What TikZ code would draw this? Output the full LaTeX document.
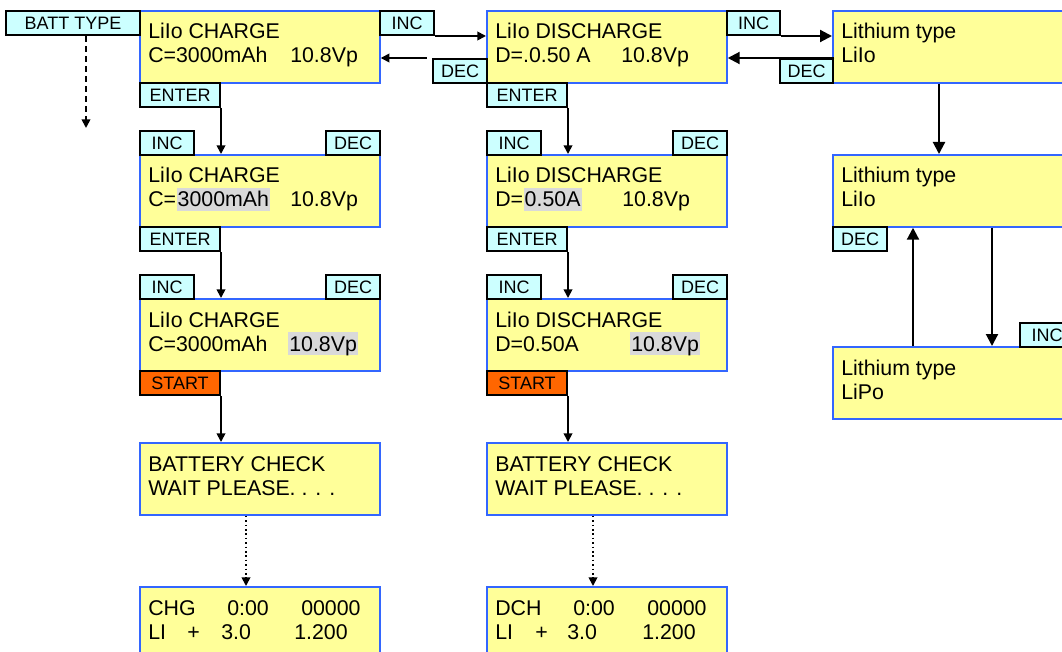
\documentclass[tikz,border=0pt]{standalone}
\usepackage{fontspec}
\setmainfont{Liberation Sans}
\usetikzlibrary{arrows.meta}
\definecolor{scryellow}{HTML}{FFFF99}
\definecolor{scrblue}{HTML}{3366FF}
\definecolor{btncyan}{HTML}{CCFFFF}
\definecolor{btnorange}{HTML}{FF6600}
\definecolor{hlgray}{HTML}{D9D9D9}

\begin{document}
\begin{tikzpicture}[x=0.75pt, y=-0.75pt,
    screen/.style={draw=scrblue, fill=scryellow, line width=1.3pt, anchor=north west,
        minimum width=180pt, minimum height=54pt, inner sep=0pt},
    btn/.style={draw=black, fill=btncyan, line width=1.5pt, anchor=north west,
        minimum height=18pt, inner sep=0pt, font=\fontsize{13.5}{16}\selectfont},
    txt/.style={anchor=base west, inner sep=0pt, font=\fontsize{16}{18}\selectfont},
    hl/.style={txt, fill=hlgray, text height=14.25pt, text depth=3pt, inner xsep=0.8pt},
    smallarr/.style={line width=1.3pt, -{Triangle[length=6.5pt, width=6.5pt]}},
    bigarr/.style={line width=1.6pt, -{Triangle[length=9pt, width=9pt]}}]

    % Picture frame
    \useasboundingbox (0,0) rectangle (1062,652);
    \clip (0,0) rectangle (1062,652);

    % Screens of the charge column
    \node[screen] (s11) at (139,10) {};
    \node[screen] (s12) at (139,154) {};
    \node[screen] (s13) at (139,298) {};
    \node[screen] (s14) at (139,442) {};
    \node[screen] (s15) at (139,586) {};

    % Screens of the discharge column
    \node[screen] (s21) at (486,10) {};
    \node[screen] (s22) at (486,154) {};
    \node[screen] (s23) at (486,298) {};
    \node[screen] (s24) at (486,442) {};
    \node[screen] (s25) at (486,586) {};

    % Screens of the lithium type column
    \node[screen] (s31) at (832,10) {};
    \node[screen] (s32) at (832,154) {};
    \node[screen] (s33) at (832,346) {};

    % Charge column texts
    \node[txt] (t11a) at (148,39) {LiIo CHARGE};
    \node[txt] (t11b) at (148,63) {C=3000mAh};
    \node[txt] (t11c) at (290,63) {10.8Vp};
    \node[txt] (t12a) at (148,183) {LiIo CHARGE};
    \node[txt] (t12b) at (148,207) {C=};
    \node[hl, anchor=base west] (t12c) at (t12b.base east) {3000mAh};
    \node[txt] (t12d) at (290,207) {10.8Vp};
    \node[txt] (t13a) at (148,327) {LiIo CHARGE};
    \node[txt] (t13b) at (148,351) {C=3000mAh};
    \node[hl] (t13c) at (288,351) {10.8Vp};
    \node[txt] (t14a) at (148,471) {BATTERY CHECK};
    \node[txt] (t14b) at (148,495) {WAIT PLEASE. . . .};
    \node[txt] (t15a) at (148,615) {CHG};
    \node[txt] (t15b) at (227,615) {0:00};
    \node[txt] (t15c) at (301,615) {00000};
    \node[txt] (t15d) at (148,639) {LI};
    \node[txt] (t15e) at (187,639) {+};
    \node[txt] (t15f) at (221,639) {3.0};
    \node[txt] (t15g) at (294,639) {1.200};

    % Discharge column texts
    \node[txt] (t21a) at (495,39) {LiIo DISCHARGE};
    \node[txt] (t21b) at (495,63) {D=.0.50 A};
    \node[txt] (t21c) at (621,63) {10.8Vp};
    \node[txt] (t22a) at (495,183) {LiIo DISCHARGE};
    \node[txt] (t22b) at (495,207) {D=};
    \node[hl, anchor=base west] (t22c) at (t22b.base east) {0.50A};
    \node[txt] (t22d) at (622,207) {10.8Vp};
    \node[txt] (t23a) at (495,327) {LiIo DISCHARGE};
    \node[txt] (t23b) at (495,351) {D=0.50A};
    \node[hl] (t23c) at (630,351) {10.8Vp};
    \node[txt] (t24a) at (495,471) {BATTERY CHECK};
    \node[txt] (t24b) at (495,495) {WAIT PLEASE. . . .};
    \node[txt] (t25a) at (495,615) {DCH};
    \node[txt] (t25b) at (573,615) {0:00};
    \node[txt] (t25c) at (647,615) {00000};
    \node[txt] (t25d) at (495,639) {LI};
    \node[txt] (t25e) at (535,639) {+};
    \node[txt] (t25f) at (567,639) {3.0};
    \node[txt] (t25g) at (642,639) {1.200};

    % Lithium type column texts
    \node[txt] (t31a) at (841,39) {Lithium type};
    \node[txt] (t31b) at (841,63) {LiIo};
    \node[txt] (t32a) at (841,183) {Lithium type};
    \node[txt] (t32b) at (841,207) {LiIo};
    \node[txt] (t33a) at (841,375) {Lithium type};
    \node[txt] (t33b) at (841,399) {LiPo};

    % Keys round the charge column
    \node[btn, minimum width=100.5pt] (bt) at (5,10) {BATT TYPE};
    \node[btn, minimum width=40.5pt] (c1inc) at (379,10) {INC};
    \node[btn, minimum width=60pt] (c1ent1) at (139,82) {ENTER};
    \node[btn, minimum width=40.5pt] (c1inc2) at (139,130) {INC};
    \node[btn, minimum width=40.5pt] (c1dec2) at (325,130) {DEC};
    \node[btn, minimum width=60pt] (c1ent2) at (139,226) {ENTER};
    \node[btn, minimum width=40.5pt] (c1inc3) at (139,274) {INC};
    \node[btn, minimum width=40.5pt] (c1dec3) at (325,274) {DEC};
    \node[btn, minimum width=60pt, fill=btnorange] (c1start) at (139,370) {START};

    % Keys round the discharge column
    \node[btn, minimum width=40.5pt] (c2dec) at (432,58) {DEC};
    \node[btn, minimum width=40pt] (c2inc) at (726,10) {INC};
    \node[btn, minimum width=60pt] (c2ent1) at (486,82) {ENTER};
    \node[btn, minimum width=40.5pt] (c2inc2) at (486,130) {INC};
    \node[btn, minimum width=40.5pt] (c2dec2) at (672,130) {DEC};
    \node[btn, minimum width=60pt] (c2ent2) at (486,226) {ENTER};
    \node[btn, minimum width=40.5pt] (c2inc3) at (486,274) {INC};
    \node[btn, minimum width=40.5pt] (c2dec3) at (672,274) {DEC};
    \node[btn, minimum width=60pt, fill=btnorange] (c2start) at (486,370) {START};

    % Keys round the lithium type column
    \node[btn, minimum width=40pt] (c3dec) at (779,58) {DEC};
    \node[btn, minimum width=40.5pt] (c3dec2) at (832,226) {DEC};
    \node[btn, minimum width=40.5pt] (c3inc3) at (1019,322) {INC};

    % Free ends and columns of the arrows
    \coordinate (btend) at (86,128);
    \coordinate (dot1) at (246,0);
    \coordinate (dot2) at (593,0);
    \coordinate (down3) at (939,0);
    \coordinate (up3) at (913,0);
    \coordinate (loop3) at (992,0);

    % Arrows of the top row
    \draw[dash pattern=on 4.5pt off 3pt, smallarr] (bt.south -| btend) -- (btend);
    \draw[smallarr] (c1inc.south east) -- (c1inc.south east -| s21.west);
    \draw[smallarr] ([xshift=-4pt]c2dec.north west) -- (c2dec.north west -| s11.east);
    \draw[bigarr] (c2inc.south east) -- (c2inc.south east -| s31.west);
    \draw[bigarr] (c3dec.north east) -- (c3dec.north west -| s21.east);

    % Arrows down the charge column
    \draw[smallarr] (c1ent1.south east) -- (c1ent1.south east |- s12.north);
    \draw[smallarr] (c1ent2.south east) -- (c1ent2.south east |- s13.north);
    \draw[smallarr] (c1start.south east) -- (c1start.south east |- s14.north);
    \draw[dotted, smallarr] (s14.south -| dot1) -- (s15.north -| dot1);

    % Arrows down the discharge column
    \draw[smallarr] (c2ent1.south east) -- (c2ent1.south east |- s22.north);
    \draw[smallarr] (c2ent2.south east) -- (c2ent2.south east |- s23.north);
    \draw[smallarr] (c2start.south east) -- (c2start.south east |- s24.north);
    \draw[dotted, smallarr] (s24.south -| dot2) -- (s25.north -| dot2);

    % Arrows of the lithium type column
    \draw[bigarr] (s31.south -| down3) -- (s32.north -| down3);
    \draw[bigarr] (s33.north -| up3) -- (s32.south -| up3);
    \draw[bigarr] (s32.south -| loop3) -- (s33.north -| loop3);

\end{tikzpicture}
\end{document}
